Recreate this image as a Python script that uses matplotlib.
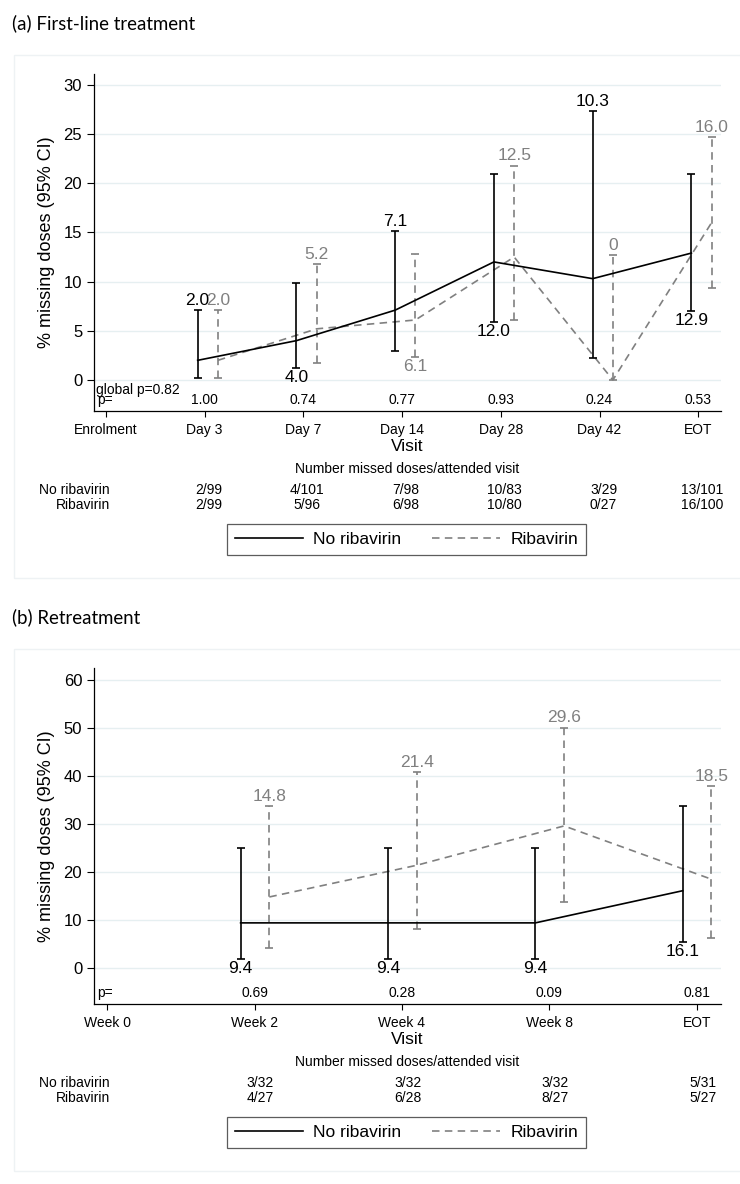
import matplotlib
matplotlib.use("Agg")
import numpy as np
import matplotlib.pyplot as plt
import matplotlib.transforms as mtransforms
from matplotlib.lines import Line2D
from matplotlib.patches import Rectangle

# ---- data: (a) first-line treatment ----
a_visits = ["Enrolment", "Day 3", "Day 7", "Day 14", "Day 28", "Day 42", "EOT"]
a_x = [1, 2, 3, 4, 5, 6]  # visit index of each estimate
a_norib = [2.0, 4.0, 7.1, 12.0, 10.3, 12.9]
a_norib_lo = [0.25, 1.2, 2.9, 5.9, 2.2, 7.0]
a_norib_hi = [7.1, 9.9, 15.1, 20.9, 27.3, 20.9]
a_rib = [2.0, 5.2, 6.1, 12.5, 0.0, 16.0]
a_rib_lo = [0.25, 1.7, 2.3, 6.1, 0.0, 9.4]
a_rib_hi = [7.1, 11.8, 12.8, 21.8, 12.7, 24.7]
a_norib_lab = ["2.0", "4.0", "7.1", "12.0", "10.3", "12.9"]
a_rib_lab = ["2.0", "5.2", "6.1", "12.5", "0", "16.0"]
a_pvals = ["1.00", "0.74", "0.77", "0.93", "0.24", "0.53"]
a_n_norib = ["2/99", "4/101", "7/98", "10/83", "3/29", "13/101"]
a_n_rib = ["2/99", "5/96", "6/98", "10/80", "0/27", "16/100"]
a_global_p = "0.82"

# ---- data: (b) retreatment ----
b_visits = ["Week 0", "Week 2", "Week 4", "Week 8", "EOT"]
b_x = [1, 2, 3, 4]
b_norib = [9.4, 9.4, 9.4, 16.1]
b_norib_lo = [1.9, 1.9, 1.9, 5.4]
b_norib_hi = [25.0, 25.0, 25.0, 33.7]
b_rib = [14.8, 21.4, 29.6, 18.5]
b_rib_lo = [4.1, 8.2, 13.7, 6.2]
b_rib_hi = [33.7, 40.9, 50.1, 37.9]
b_norib_lab = ["9.4", "9.4", "9.4", "16.1"]
b_rib_lab = ["14.8", "21.4", "29.6", "18.5"]
b_pvals = ["0.69", "0.28", "0.09", "0.81"]
b_n_norib = ["3/32", "3/32", "3/32", "5/31"]
b_n_rib = ["4/27", "6/28", "8/27", "5/27"]

# label side (above upper CI / below lower CI) -- styling only
a_norib_side = ["up", "down", "up", "down", "up", "down"]
a_rib_side = ["up", "up", "down", "up", "up", "up"]
b_norib_side = ["down", "down", "down", "down"]
b_rib_side = ["up", "up", "up", "up"]

plt.rcParams["font.family"] = ["Liberation Sans", "DejaVu Sans"]

W, H = 740, 1184
BLACK = "#000000"
GREY = "#808080"
GRID = "#e6eff1"
DASH = (0, (4.5, 3.2))

fig = plt.figure(figsize=(W / 100, H / 100), dpi=100)


def fy(py):
    return 1 - py / H


def panel(top, bottom, xlim, ylim, yticks, visits, xs, off,
          m1, lo1, hi1, lab1, side1, m2, lo2, hi2, lab2, side2,
          pvals, n1, n2, title, title_y, p_y, global_p=None):
    ax = fig.add_axes([94 / W, fy(bottom), (721 - 94) / W, (bottom - top) / H])
    ax.set_xlim(*xlim)
    ax.set_ylim(*ylim)
    ax.set_yticks(yticks)
    ax.set_xticks(range(len(visits)))
    ax.set_xticklabels(visits, fontsize=10)
    ax.tick_params(axis="y", labelsize=12, length=5, width=0.8, pad=3.5)
    ax.tick_params(axis="x", length=4.3, width=0.8, pad=4.3)
    for s in ["top", "right"]:
        ax.spines[s].set_visible(False)
    for s in ["left", "bottom"]:
        ax.spines[s].set_linewidth(0.9)
    ax.grid(axis="y", color=GRID, lw=1.0)
    ax.set_axisbelow(True)
    ax.set_ylabel("% missing doses (95% CI)", fontsize=13, labelpad=6)

    x1 = np.array(xs) - off[0]
    x2 = np.array(xs) + off[1]

    # no ribavirin
    ax.plot(x1, m1, color=BLACK, lw=1.2, zorder=3)
    ax.errorbar(x1, m1, yerr=[np.array(m1) - np.array(lo1), np.array(hi1) - np.array(m1)],
                fmt="none", ecolor=BLACK, elinewidth=1.2, capsize=3, capthick=1.2, zorder=3)
    # ribavirin
    ax.plot(x2, m2, color=GREY, lw=1.2, linestyle=DASH, zorder=2)
    eb2 = ax.errorbar(x2, m2, yerr=[np.array(m2) - np.array(lo2), np.array(hi2) - np.array(m2)],
                      fmt="none", ecolor=GREY, elinewidth=1.2, capsize=3, capthick=1.2, zorder=2)
    eb2[2][0].set_linestyle(DASH)

    for xs_, lab, side, lo, hi, col in [(x1, lab1, side1, lo1, hi1, BLACK),
                                        (x2, lab2, side2, lo2, hi2, GREY)]:
        for xi, t, sd, l, h in zip(xs_, lab, side, lo, hi):
            if sd == "up":
                ax.annotate(t, (xi, h), xytext=(0, 1.5), textcoords="offset points",
                            ha="center", va="bottom", fontsize=12.5, color=col,
                            annotation_clip=False)
            else:
                ax.annotate(t, (xi, l), xytext=(0, -1.5), textcoords="offset points",
                            ha="center", va="top", fontsize=12.5, color=col,
                            annotation_clip=False)

    # p-values row inside axes
    for xi, p in zip(xs, pvals):
        ax.text(xi, p_y, p, ha="center", va="center", fontsize=10)
    left_tr = mtransforms.blended_transform_factory(ax.transAxes, ax.transData)
    ax.text(0.005, p_y, "p=", ha="left", va="center", fontsize=10, transform=left_tr)
    if global_p is not None:
        ax.text(0.003, p_y + 1.0, "global p=" + global_p, ha="left", va="center",
                fontsize=10, transform=left_tr)

    # text below axes
    cx = (94 + 721) / 2 / W
    fig.text(cx, fy(bottom + 35), "Visit", ha="center", va="center", fontsize=12.5)
    fig.text(cx, fy(bottom + 58), "Number missed doses/attended visit",
             ha="center", va="center", fontsize=10)
    tr = mtransforms.blended_transform_factory(ax.transData, fig.transFigure)
    r1, r2 = bottom + 79, bottom + 94
    fig.text(110 / W, fy(r1), "No ribavirin", ha="right", va="center", fontsize=10)
    fig.text(110 / W, fy(r2), "Ribavirin", ha="right", va="center", fontsize=10)
    for xi, a, b in zip(xs, n1, n2):
        fig.text(xi + 0.04, fy(r1), a, ha="center", va="center", fontsize=10, transform=tr)
        fig.text(xi + 0.04, fy(r2), b, ha="center", va="center", fontsize=10, transform=tr)

    handles = [Line2D([], [], color=BLACK, lw=1.2),
               Line2D([], [], color=GREY, lw=1.2, linestyle=DASH)]
    leg = fig.legend(handles, ["No ribavirin", "Ribavirin"], loc="center",
                     bbox_to_anchor=(406.5 / W, fy(bottom + 128.5)), ncol=2,
                     fontsize=12.5, frameon=True, fancybox=False, edgecolor="#333333",
                     handlelength=3.9, handletextpad=0.6, columnspacing=1.8,
                     borderpad=0.45)
    leg.get_frame().set_linewidth(0.9)

    # faint plot-region outline (Stata graph region)
    fig.add_artist(Rectangle((14 / W, fy(bottom + 167)), 1.0, (bottom + 167 - (top - 19)) / H,
                             transform=fig.transFigure, fill=False, edgecolor="#eef2f4", lw=1))
    fig.text(12 / W, fy(title_y), title, ha="left", va="center", fontsize=13.4,
             family=["Lato", "DejaVu Sans"])
    return ax


panel(74, 411, (-0.12, 6.23), (-3.15, 31.1), [0, 5, 10, 15, 20, 25, 30], a_visits, a_x,
      (0.07, 0.135), a_norib, a_norib_lo, a_norib_hi, a_norib_lab, a_norib_side,
      a_rib, a_rib_lo, a_rib_hi, a_rib_lab, a_rib_side,
      a_pvals, a_n_norib, a_n_rib, "(a) First-line treatment", 23, -2.0, a_global_p)

panel(668, 1004, (-0.09, 4.165), (-7.5, 62.5), [0, 10, 20, 30, 40, 50, 60], b_visits, b_x,
      (0.095, 0.1), b_norib, b_norib_lo, b_norib_hi, b_norib_lab, b_norib_side,
      b_rib, b_rib_lo, b_rib_hi, b_rib_lab, b_rib_side,
      b_pvals, b_n_norib, b_n_rib, "(b) Retreatment", 617, -5.2)

fig.savefig("out.png", dpi=100, facecolor="white")
